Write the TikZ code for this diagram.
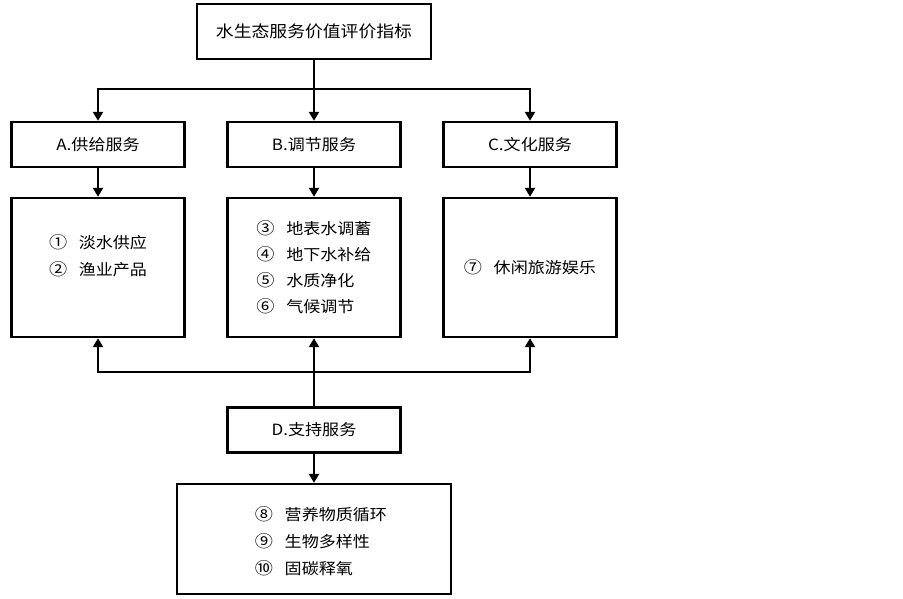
\documentclass[tikz,border=0pt]{standalone}
\usepackage{fontspec}
\setmainfont[FakeStretch=1.1]{Noto Sans CJK SC}
\usetikzlibrary{arrows.meta,positioning}

\newcommand{\circnum}[1]{{\fontsize{16.5}{20}\selectfont #1}\hspace{0.75em}}

\begin{document}
\begin{tikzpicture}[x=1pt,y=-1pt,>={Triangle[width=10pt,length=9pt]},line width=2.4pt,
  head/.style={draw,rectangle,minimum width=234pt,minimum height=55pt,inner sep=0pt,font=\fontsize{16.2}{20}\selectfont},
  cat/.style={draw,rectangle,minimum width=173pt,minimum height=45pt,inner sep=0pt,font=\fontsize{15.5}{20}\selectfont},
  list/.style={draw,rectangle,minimum width=173pt,minimum height=139pt,inner sep=0pt,align=left,font=\fontsize{15.5}{26}\selectfont},
  items/.style={inner sep=0pt,align=left,font=\fontsize{15.5}{27}\selectfont}]
\tikzstyle{arrow} = [->]

\useasboundingbox (0,0) rectangle (903,598);

% top index and the four categories
\node (index) at (314,31.5) [head] {水生态服务价值评价指标};
\node (supply) at (98,144.5) [cat] {A.供给服务};
\node (regulate) at (314,144.5) [cat] {B.调节服务};
\node (culture) at (530,144.5) [cat] {C.文化服务};
\node (support) at (314,430) [cat] {D.支持服务};

% item boxes
\node (supplyList) at (98,267.5) [list] {};
\node (supplyItems) at ([yshift=11.5pt]supplyList.center) [items] {\circnum{①}淡水供应\\\circnum{②}渔业产品};
\node (regulateList) at (314,267.5) [list] {\circnum{③}地表水调蓄\\\circnum{④}地下水补给\\\circnum{⑤}水质净化\\\circnum{⑥}气候调节};
\node (cultureList) at (530,267.5) [list] {\circnum{⑦}休闲旅游娱乐};
\node (supportList) at (314,539) [list,minimum width=274pt,minimum height=110pt] {};
\node (supportItems) at ([xshift=7pt,yshift=-2pt]supportList.center) [items] {\circnum{⑧}营养物质循环\\\circnum{⑨}生物多样性\\\circnum{⑩}固碳释氧};

\coordinate (split) at (index.south |- 0,89);
\coordinate (join) at (support.north |- 0,372);

\draw[arrow] (index) -- (regulate);
\draw[arrow] (split) -| (supply);
\draw[arrow] (split) -| (culture);
\draw[arrow] (supply) -- (supplyList);
\draw[arrow] (regulate) -- (regulateList);
\draw[arrow] (culture) -- (cultureList);
\draw[arrow] (support) -- (regulateList);
\draw[arrow] (join) -| (supplyList);
\draw[arrow] (join) -| (cultureList);
\draw[arrow] (support) -- (supportList);

\end{tikzpicture}
\end{document}
